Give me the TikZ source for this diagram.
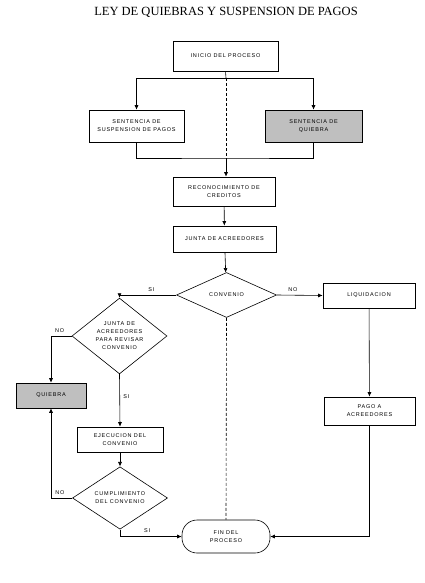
\documentclass[tikz,border=0pt]{standalone}
\usepackage{fontspec}
\setmainfont{Liberation Serif}
\newfontfamily\cajafont[LetterSpace=14]{Liberation Sans}
\usepackage{tikz}
\usetikzlibrary{arrows.meta,positioning,calc,shapes.geometric}

\begin{document}
\begin{tikzpicture}[
  x=1pt, y=-1pt, line width=0.6pt,
  caja/.style={draw, inner sep=1pt, align=center, font=\cajafont\fontsize{5.5}{8}\selectfont},
  rombo/.style={diamond, draw, inner sep=0pt, align=center, font=\cajafont\fontsize{5.5}{8}\selectfont},
  quiebrabox/.style={caja, fill=gray!50},
  flecha/.style={-{Latex[length=4.5pt,width=4pt]}},
  etiq/.style={font=\cajafont\fontsize{5.5}{6}\selectfont}
]
\useasboundingbox (0,0) rectangle (424,583);
\node[font=\fontsize{12.5}{14}\selectfont] (titulo) at (226,12) {LEY DE QUIEBRAS Y SUSPENSION DE PAGOS};

% columna central
\node[caja, minimum width=105pt, minimum height=30pt] (inicio) at (225.5,56) {INICIO DEL PROCESO};
\node[caja, minimum width=95pt, minimum height=32pt] (susp) at (136.5,126) {SENTENCIA DE\\SUSPENSION DE PAGOS};
\node[quiebrabox, minimum width=97pt, minimum height=32pt] (sentq) at (313.5,126) {SENTENCIA DE\\QUIEBRA};
\node[caja, minimum width=102pt, minimum height=29pt] (recon) at (224,191.5) {RECONOCIMIENTO DE\\CREDITOS};
\node[caja, minimum width=103pt, minimum height=26pt] (junta) at (224.5,239) {JUNTA DE ACREEDORES};
\node[rombo, minimum width=100pt, minimum height=45pt] (conv) at (226.5,295) {CONVENIO};
\node[caja, minimum width=92pt, minimum height=25pt] (liq) at (369,295.5) {LIQUIDACION};
\node[caja, minimum width=91pt, minimum height=28pt] (pago) at (369.5,411) {PAGO A\\ACREEDORES};
\node[draw, rounded corners=15pt, minimum width=88pt, minimum height=33pt, align=center,
  font=\cajafont\fontsize{5.5}{8}\selectfont] (fin) at (226,536.5) {FIN DEL\\PROCESO};

% columna izquierda
\node[rombo, minimum width=95pt, minimum height=48pt] (revisar) at (119.5,336) {JUNTA DE\\ACREEDORES\\PARA REVISAR\\CONVENIO};
\node[quiebrabox, minimum width=70pt, minimum height=25pt] (quiebra) at (51,395.5) {QUIEBRA};
\node[caja, minimum width=86pt, minimum height=25pt] (ejec) at (120,439.5) {EJECUCION DEL\\CONVENIO};
\node[rombo, minimum width=95pt, minimum height=40pt] (cumpl) at (120,498) {CUMPLIMIENTO\\DEL CONVENIO};

\coordinate (reparte) at (226,78);
\coordinate (junta1) at (226,158);

\draw (inicio.south) -- (reparte);
\draw[flecha] (reparte) -| (susp.north);
\draw[flecha] (reparte) -| (sentq.north);
\draw[densely dashed] (reparte) -- (junta1);
\draw (susp.south) |- (junta1) -| (sentq.south);
\draw[flecha] (junta1) -- (recon.north -| junta1);
\draw[flecha] (recon) -- (junta);
\draw[flecha] (junta) -- (conv);

\draw[flecha] (conv.west) -| node[etiq, pos=0.22, above] {SI} (revisar.north);
\draw[flecha] (conv.east) -- node[etiq, pos=0.35, above] {NO} (liq.west);
\draw[densely dashed] (conv.south) -- (fin.north);
\draw[flecha] (liq) -- (pago);
\draw[flecha] (pago.south) |- (fin.east);

\draw[flecha] (revisar.west) -| node[etiq, pos=0.29, above] {NO} (quiebra.north);
\draw[flecha] (revisar.south) -- node[etiq, pos=0.42, right] {SI} (ejec.north);
\draw[flecha] (ejec) -- (cumpl);
\draw[flecha] (cumpl.west) -| node[etiq, pos=0.29, above] {NO} (quiebra.south);
\draw[flecha] (cumpl.south) |- node[etiq, pos=0.72, above] {SI} (fin.west);
\end{tikzpicture}
\end{document}
